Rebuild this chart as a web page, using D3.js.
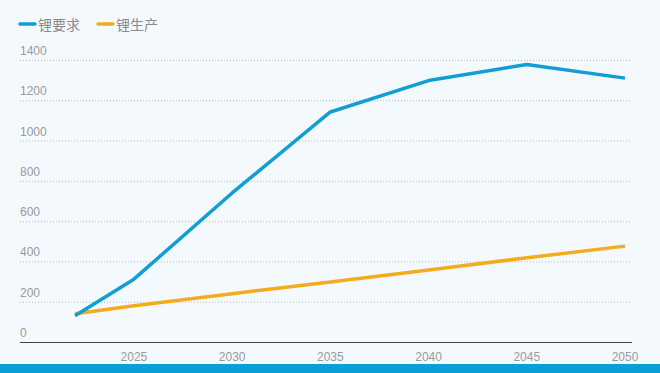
<!DOCTYPE html>
<html>
<head>
<meta charset="utf-8">
<script src="https://cdn.jsdelivr.net/npm/d3@7"></script>
<style>
    body { margin: 0; background: #f4f9fe; }
    svg { display: block; font-family: "Liberation Sans", Arial, sans-serif; }
</style>
</head>
<body>
<svg id="chart" width="660" height="373"></svg>
<script>
let years = [2022, 2025, 2030, 2035, 2040, 2045, 2050];
let demand = [130, 312, 740, 1142, 1298, 1378, 1310];
let production = [140, 180, 240, 298, 358, 418, 476];
let xTicks = [2025, 2030, 2035, 2040, 2045, 2050];
let yTicks = [0, 200, 400, 600, 800, 1000, 1200, 1400];
let seriesNames = ['锂要求', '锂生产'];
let colors = ['#119fd3', '#f5ab1e'];

let svg = d3.select('#chart');
let svgDim = {'w': +svg.attr('width'), 'h': +svg.attr('height')};

svg.append('rect').attr('width', svgDim.w).attr('height', svgDim.h).attr('fill', '#f4f9fe');

let x = d3.scaleLinear().domain([2022, 2050]).range([75, 625]);
let y = d3.scaleLinear().domain([0, 1400]).range([342, 60]);

// grid + y labels ------------------------------------------------------------
yTicks.forEach((t) => {
    if (t > 0) {
        svg.append('line')
            .attr('x1', 20).attr('x2', 632)
            .attr('y1', y(t) + 0.5).attr('y2', y(t) + 0.5)
            .attr('stroke', '#b4b8bc')
            .attr('stroke-width', 1)
            .attr('stroke-dasharray', '1,2');
    }
    svg.append('text')
        .attr('x', 20).attr('y', y(t) - 5)
        .attr('font-size', 12)
        .attr('fill', '#9a9a9a')
        .text(t);
});

// x axis ---------------------------------------------------------------------
svg.append('line')
    .attr('x1', 20).attr('x2', 632)
    .attr('y1', 342.5).attr('y2', 342.5)
    .attr('stroke', '#444').attr('stroke-width', 1);

svg.selectAll('.xlab').data(xTicks).enter().append('text')
    .attr('class', 'xlab')
    .attr('x', (d) => x(d))
    .attr('y', 361)
    .attr('text-anchor', 'middle')
    .attr('font-size', 12)
    .attr('fill', '#9a9a9a')
    .text((d) => d);

// lines ----------------------------------------------------------------------
let line = d3.line()
    .x((d) => x(d[0]))
    .y((d) => y(d[1]));

[demand, production].reverse().forEach((vals, i) => {
    let idx = 1 - i;
    svg.append('path')
        .datum(years.map((yr, j) => [yr, vals[j]]))
        .attr('fill', 'none')
        .attr('stroke', colors[idx])
        .attr('stroke-width', 3.5)
        .attr('stroke-linejoin', 'round')
        .attr('d', line);
});

// legend ---------------------------------------------------------------------
let legendX = [20, 98];
seriesNames.forEach((name, i) => {
    svg.append('line')
        .attr('x1', legendX[i]).attr('x2', legendX[i] + 15)
        .attr('y1', 24).attr('y2', 24)
        .attr('stroke', colors[i])
        .attr('stroke-width', 3.5)
        .attr('stroke-linecap', 'round');
    svg.append('text')
        .attr('x', legendX[i] + 18).attr('y', 29.5)
        .attr('font-family', '"Noto Sans CJK SC", sans-serif')
        .attr('font-size', 14)
        .attr('fill', '#8a8a8a')
        .text(name);
});

// bottom band
svg.append('rect')
    .attr('x', 0).attr('y', 364)
    .attr('width', svgDim.w).attr('height', 9)
    .attr('fill', '#0b9fd8');
</script>
</body>
</html>
